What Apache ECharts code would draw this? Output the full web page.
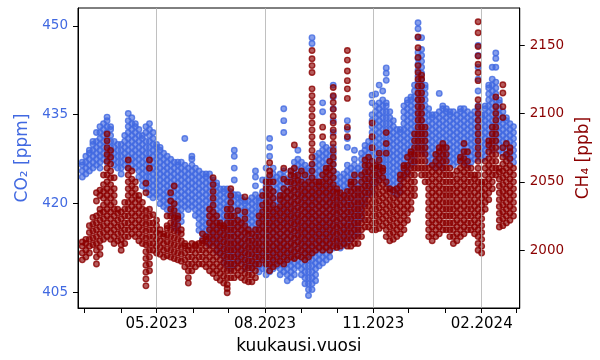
<!DOCTYPE html>
<html><head><meta charset="utf-8">
<script src="https://cdn.jsdelivr.net/npm/echarts@6/dist/echarts.min.js"></script>
<style>html,body{margin:0;padding:0;background:#fff}#c{width:600px;height:360px}</style>
</head><body><div id="c"></div>
<script>
// sampling grid: one column of readings every 3 days, starting 27.02.2023
const startDate = '2023-02-27';
const stepDays = 3;

// CO2 [ppm] readings per time column
const co2Steps = [
[424.5,425.5,426.5,427],
[425,426,427,428],
[425.5,426.5,427.5,428.5,429],
[426,427,428,429,430,430.5],
[426.5,427.5,428.5,429.5,430.5,432],
[426,427,428,429,430,431,432,433],
[427.5,428.5,429.5,430.5,431.5,432.5,433.5],
[427,428,429,430,431,432,433,434,434.6],
[427.5,428.5,429.5,430.5,431.5,432.5,433],
[426.5,427.5,428.5,429.5,430.5],
[426,427,428,429,430],
[425,426,427,428,429,430],
[426.5,427.5,428.5,429.5,430.5,431.5],
[426,427,428,429,430,431,432,433,434,435.2],
[426.5,427.5,428.5,429.5,430.5,431.5,432.5,433.5,434.5],
[426,427,428,429,430,431,432,433,433.5],
[424.5,425.5,426.5,427.5,428.5,429.5,430.5,431.5,432.5],
[423,424,425,426,427,428,429,430,431,431.5],
[422.5,423.5,424.5,425.5,426.5,427.5,428.5,429.5,430.5,432,433],
[421.5,422.5,423.5,424.5,425.5,426.5,427.5,428.5,429.5,430.5,431.5,432.5,433.5],
[421,422,423,424,425,426,427,428,429,430,431,432],
[421.5,422.5,423.5,424.5,425.5,426.5,427.5,428.5,429.5,430],
[420,421,422,423,424,425,426,427,428,429,429.5],
[419.5,420.5,421.5,422.5,423.5,424.5,425.5,426.5,427.5,428.5],
[419,420,421,422,423,424,425,426,427,428],
[418.5,419.5,420.5,421.5,422.5,423.5,424.5,425.5,426.5,427.5],
[416,417,418,419,420,421,422,423,424,425,426,427],
[415.5,416.5,417.5,418.5,419.5,420.5,421.5,422.5,423.5,424.5,425.5,426.5,427],
[417,418,419,420,421,422,423,424,425,426,427],
[419.5,420.5,421.5,422.5,423.5,424.5,425.5,426.5,431],
[419,420,421,422,423,424,425,426],
[419.5,420.5,421.5,422.5,423.5,424.5,425.5,426.5,427.5,428],
[418,419,420,421,422,423,424,425,426],
[415.5,416.5,417.5,418.5,419.5,420.5,421.5,422.5,423.5,424.5,425.5],
[414,415,416,417,418,419,420,421,422,423,424,425],
[413.5,414.5,415.5,416.5,417.5,418.5,419.5,420.5,421.5,422.5,423.5,424.5,425],
[413,414,415,416,417,418,419,420,421,422,423,424,425],
[413.5,414.5,415.5,416.5,417.5,418.5,419.5,420.5,421.5,422.5,423.5,424],
[412,413,414,415,416,417,418,419,420,421,422,423,423.5],
[411.5,412.5,413.5,414.5,415.5,416.5,417.5,418.5,419.5,420.5,421.5,422.5],
[410,411,412,413,414,415,416,417,418,419,420,421,422,422.5],
[409.5,410.5,411.5,412.5,413.5,414.5,415.5,416.5,417.5,418.5,419.5,420.5,421.5,422.5],
[409,410,411,412,413,414,415,416,417,418,419,420,421,422],
[409.5,410.5,411.5,412.5,413.5,414.5,415.5,416.5,417.5,418.5,419.5,420.5,421.5,424,426,428,429],
[410,411,412,413,414,415,416,417,418,419,420,421,421.5],
[410.5,411.5,412.5,413.5,414.5,415.5,416.5,417.5,418.5,419.5,420.5,421],
[409,410,411,412,413,414,415,416,417,418,419,420,420.5],
[409.5,410.5,411.5,412.5,413.5,414.5,415.5,416.5,417.5,418.5,419.5,420.5],
[409,410,411,412,413,414,415,416,417,418,419,420,421],
[409.5,410.5,411.5,412.5,413.5,414.5,415.5,416.5,417.5,418.5,419.5,420.5,421.5,423,424.5,425.5],
[408.5,409.5,410.5,411.5,412.5,413.5,414.5,415.5,416.5,417.5,418.5,419.5,420.5,421],
[409,410,411,412,413,414,415,416,417,418,419,420,421,422,424],
[408,409,410,411,412,413,414,415,416,417,418,419,420,421,422,423,424,426],
[408.5,409.5,410.5,411.5,412.5,413.5,414.5,415.5,416.5,417.5,418.5,419.5,420.5,421.5,422.5,423.5,424.5,428,429.5,431],
[409,410,411,412,413,414,415,416,417,418,419,420,421,422,423,424,425,426],
[409.5,410.5,411.5,412.5,413.5,414.5,415.5,416.5,417.5,418.5,419.5,420.5,421.5,422.5,423.5,424.5],
[408,409,410,411,412,413,414,415,416,417,418,419,420,421,422,423,424,425],
[408.5,409.5,410.5,411.5,412.5,413.5,414.5,415.5,416.5,417.5,418.5,419.5,420.5,421.5,422.5,423.5,424.5,425.5,432,434,436],
[407,408,409,410,411,412,413,414,415,416,417,418,419,420,421,422,423,424],
[407.5,408.5,409.5,410.5,411.5,412.5,413.5,414.5,415.5,416.5,417.5,418.5,419.5,420.5,421.5,422.5,423.5,424.5,425.5],
[408,409,410,411,412,413,414,415,416,417,418,419,420,421,422,423,424,425,426,427],
[409.5,410.5,411.5,412.5,413.5,414.5,415.5,416.5,417.5,418.5,419.5,420.5,421.5,422.5,423.5,424.5,425.5,426.5,427.5,429],
[408,409,410,411,412,413,414,415,416,417,418,419,420,421,422,423,424,425,426,427],
[406.5,407.5,408.5,409.5,410.5,411.5,412.5,413.5,414.5,415.5,416.5,417.5,418.5,419.5,420.5,421.5,422.5,423.5,424.5,425.5,426.5],
[404.5,405.5,406.5,407.5,408.5,409.5,410.5,411.5,412.5,413.5,414.5,415.5,416.5,417.5,418.5,419.5,420.5,421.5,422.5,423.5,424.5,425.5,426],
[405.5,406.5,407.5,408.5,409.5,410.5,411.5,412.5,413.5,414.5,415.5,416.5,417.5,418.5,419.5,420.5,421.5,422.5,423.5,424.5,425.5,426.5,447,448],
[407,408,409,410,411,412,413,414,415,416,417,418,419,420,421,422,423,424,425,426,427,428],
[409.5,410.5,411.5,412.5,413.5,414.5,415.5,416.5,417.5,418.5,419.5,420.5,421.5,422.5,423.5,424.5,425.5,426.5,427.5,428.5],
[410,411,412,413,414,415,416,417,418,419,420,421,422,423,424,425,426,427,428,429,430,435.5,437],
[410.5,411.5,412.5,413.5,414.5,415.5,416.5,417.5,418.5,419.5,420.5,421.5,422.5,423.5,424.5,425.5,426.5,427.5,428.5,429.5],
[411,412,413,414,415,416,417,418,419,420,421,422,423,424,425,426,427,428,429],
[412.5,413.5,414.5,415.5,416.5,417.5,418.5,419.5,420.5,421.5,422.5,423.5,424.5,425.5,426.5,427.5,428.5,429.5,432,434,436,438,440],
[413,414,415,416,417,418,419,420,421,422,423,424,425],
[412.5,413.5,414.5,415.5,416.5,417.5,418.5,419.5,420.5,421.5,422.5,423.5,424.5],
[413,414,415,416,417,418,419,420,421,422,423,424,425],
[413.5,414.5,415.5,416.5,417.5,418.5,419.5,420.5,421.5,422.5,423.5,424.5,425.5,426.5,429.5,431,432.5,434],
[414,415,416,417,418,419,420,421,422,423,424,425,426],
[414.5,415.5,416.5,417.5,418.5,419.5,420.5,421.5,422.5,423.5,424.5,425.5,426.5,427.5,429],
[415,416,417,418,419,420,421,422,423,424,425,426],
[417.5,418.5,419.5,420.5,421.5,422.5,423.5,424.5,425.5,426.5,427.5,428.5],
[420,421,422,423,424,425,426,427,428,429,429.8],
[421.5,422.5,423.5,424.5,425.5,426.5,427.5,428.5,429.5,430.5],
[422,423,424,425,426,427,428,429,430,431,432,433,434,435,437,438.3],
[423.5,424.5,425.5,426.5,427.5,428.5,429.5,430.5,431.5,432.5,433.5,434.5,435.5,436.5,438.5],
[424,425,426,427,428,429,430,431,432,433,434,435,436,437,440],
[424.5,425.5,426.5,427.5,428.5,429.5,430.5,431.5,432.5,433.5,434.5,435.5,436.5,437.5,439],
[423.5,424.5,425.5,426.5,427.5,428.5,429.5,430.5,431.5,432.5,433.5,434.5,435.5,436.5,437,440.8,442,442.9],
[422.5,423.5,424.5,425.5,426.5,427.5,428.5,429.5,430.5,431.5,432.5,433.5,434.5,435.5],
[422,423,424,425,426,427,428,429,430,431,432,433,434],
[421.5,422.5,423.5,424.5,425.5,426.5,427.5,428.5,429.5,430.5,431.5,432.5],
[422,423,424,425,426,427,428,429,430,431,432,432.5],
[424.5,425.5,426.5,427.5,428.5,429.5,430.5,431.5,432.5,433.5,434.5,435.5,436.5],
[425,426,427,428,429,430,431,432,433,434,435,436,437,437.5],
[426.5,427.5,428.5,429.5,430.5,431.5,432.5,433.5,434.5,435.5,436.5,437.5,438],
[427,428,429,430,431,432,433,434,435,436,437,438,439,440],
[429.5,430.5,431.5,432.5,433.5,434.5,435.5,436.5,437.5,438.5,439.5,440.5,441.5,442.5,443.5,444.5,445.5,448,449.5,450.5],
[429,430,431,432,433,434,435,436,437,438,439,440,441,442,443,444,445,446,448],
[428.5,429.5,430.5,431.5,432.5,433.5,434.5,435.5,436.5,437.5,438.5,439.5,440],
[427,428,429,430,431,432,433,434,435,436],
[426.5,427.5,428.5,429.5,430.5,431.5,432.5,433.5,434.5,435],
[426,427,428,429,430,431,432,433,434,435],
[426.5,427.5,428.5,429.5,430.5,431.5,432.5,433.5,434.5,435.5,438.6],
[426,427,428,429,430,431,432,433,434,435,436,436.5],
[427.5,428.5,429.5,430.5,431.5,432.5,433.5,434.5,435.5,436],
[427,428,429,430,431,432,433,434,435,435.5],
[426.5,427.5,428.5,429.5,430.5,431.5,432.5,433.5,434.5,435.5],
[427,428,429,430,431,432,433,434,435],
[427.5,428.5,429.5,430.5,431.5,432.5,433.5,434.5,435.5,436],
[427,428,429,430,431,432,433,434,435,436],
[426.5,427.5,428.5,429.5,430.5,431.5,432.5,433.5,434.5,435.5],
[427,428,429,430,431,432,433,434,435],
[427.5,428.5,429.5,430.5,431.5,432.5,433.5,434.5,435.5],
[428,429,430,431,432,433,434,435,436,436.5,439,441,443,445,446.7],
[427.5,428.5,429.5,430.5,431.5,432.5,433.5,434.5,435],
[428,429,430,431,432,433,434,435,436,436.5],
[429.5,430.5,431.5,432.5,433.5,434.5,435.5,436.5,437.5,438.5,439.5,440],
[429,430,431,432,433,434,435,436,437,438,439,440,441,443],
[430.5,431.5,432.5,433.5,434.5,435.5,436.5,437.5,438.5,439.5,440.5,443,444.5,445.4],
[429,430,431,432,433,434,435,436,437,437.5],
[428.5,429.5,430.5,431.5,432.5,433.5,434.5,435.5],
[428,429,430,431,432,433,434,434.5],
[427.5,428.5,429.5,430.5,431.5,432.5,433.5],
[427,428,429,430,431,432,433]
];

// CH4 [ppb] readings per time column
const ch4Steps = [
[1993,1998,2003,2006],
[1995,2000,2005,2008],
[1998,2003,2008,2013,2018],
[2004,2009,2014,2019,2024],
[1990,1995,2000,2005,2010,2015,2020,2025,2036,2042],
[1997,2002,2007,2012,2017,2022,2027,2030,2040,2044],
[2008,2013,2018,2023,2028,2033,2038,2043,2048,2055],
[2010,2015,2020,2025,2030,2035,2040,2045,2050,2055,2060,2065,2070,2075,2080,2085],
[2008,2013,2018,2023,2028,2033,2038,2043,2048,2053,2058,2063,2068,2073],
[2005,2010,2015,2020,2025,2030,2035,2040,2045,2053],
[2007,2012,2017,2022,2027,2030],
[2000,2004,2008,2013,2018,2023,2028],
[2005,2010,2015,2020,2025,2030,2035],
[2010,2015,2020,2025,2030,2035,2040,2045,2050,2055,2060,2066],
[2012,2017,2022,2027,2032,2037,2042,2047,2052,2058],
[2010,2015,2020,2025,2030,2035,2040,2045,2050],
[2007,2012,2017,2022,2027,2032,2037,2040],
[2005,2010,2015,2020,2025,2030,2035],
[1974,1979,1984,1989,1994,1999,2004,2009,2014,2019,2024,2029,2042,2049],
[1985,1990,1995,2000,2005,2010,2015,2020,2025,2030,2060,2066],
[2000,2005,2010,2015,2020,2026],
[1998,2003,2008,2013,2018,2022],
[1997,2002,2007,2012,2015],
[1995,2000,2005,2010,2012],
[1996,2001,2006,2011,2016,2018,2025],
[1995,2000,2005,2010,2015,2020,2025,2030,2036,2042],
[1994,1999,2004,2009,2014,2019,2024,2029,2034,2047],
[1993,1998,2003,2008,2013,2018,2023,2025],
[1992,1997,2002,2007,2012,2015],
[1988,1993,1998,2003,2005],
[1976,1980,1985,1990,1995,2000,2003],
[1985,1990,1995,2000,2005],
[1988,1993,1998,2003,2004],
[1990,1995,2000,2005],
[1990,1995,2000,2005,2007,2012],
[1988,1993,1998,2003,2008,2010],
[1985,1990,1995,2000,2005,2010,2015,2020,2025,2030],
[1983,1988,1993,1998,2003,2008,2013,2018,2023,2028,2033,2038,2043,2048,2053],
[1980,1985,1990,1995,2000,2005,2010,2015,2020,2025],
[1978,1983,1988,1993,1998,2003,2008,2013,2018,2020],
[1976,1981,1986,1991,1996,2001,2006,2011,2016,2018],
[1969,1972,1975,1980,1985,1990,1995,2000,2005,2010,2015,2020,2025,2030],
[1980,1985,1990,1995,2000,2005,2010,2015,2020,2025,2030,2035,2040,2045],
[1980,1985,1990,1995,2000,2005,2010,2015,2020,2025],
[1982,1987,1992,1997,2002,2007,2012,2017,2022,2029],
[1980,1985,1990,1995,2000,2005,2010,2015,2020],
[1978,1983,1988,1993,1998,2003,2008,2013,2018,2023,2028,2039],
[1977,1982,1987,1992,1997,2002,2007,2012,2015],
[1977,1982,1987,1992,1997,2002,2007,2012],
[1980,1985,1990,1995,2000,2005,2010,2015],
[1990,1995,2000,2005,2010,2015,2020,2025],
[1993,1998,2003,2008,2013,2018,2023,2028,2033,2040],
[1990,1995,2000,2005,2010,2015,2020,2025,2030,2035,2040,2045,2050],
[1985,1990,1995,2000,2005,2010,2015,2020,2025,2030,2035,2040,2045,2050,2055,2058,2064],
[1988,1993,1998,2003,2008,2013,2018,2023,2028,2033,2038,2043,2050],
[1990,1995,2000,2005,2010,2015,2020,2025,2030],
[1992,1997,2002,2007,2012,2017,2022,2027,2032,2037,2040],
[1990,1995,2000,2005,2010,2015,2020,2025,2030,2035,2040,2045,2052,2060],
[1993,1998,2003,2008,2013,2018,2023,2028,2033,2038,2043,2050],
[1995,2000,2005,2010,2015,2020,2025,2030,2035,2040,2045,2050,2055,2058],
[1994,1999,2004,2009,2014,2019,2024,2029,2034,2039,2044,2049,2054,2060,2077],
[1996,2001,2006,2011,2016,2021,2026,2031,2036,2041,2046,2051,2055],
[1995,2000,2005,2010,2015,2020,2025,2030,2035,2040,2045,2050,2058],
[1993,1998,2003,2008,2013,2018,2023,2028,2033,2038,2043,2048,2055],
[1995,2000,2005,2010,2015,2020,2025,2030,2035,2040,2045,2050],
[1998,2003,2008,2013,2018,2023,2028,2033,2038,2043,2048,2053,2058,2063,2068,2073,2078,2083,2088,2093,2098,2103,2108,2113,2118,2130,2135,2140,2146],
[2000,2005,2010,2015,2020,2025,2030,2035,2040,2045,2050],
[2002,2007,2012,2017,2022,2027,2032,2037,2042,2047,2050],
[2000,2005,2010,2015,2020,2025,2030,2035,2040,2045,2050,2055,2083,2090],
[2002,2007,2012,2017,2022,2027,2032,2037,2042,2047,2052,2057,2060],
[2000,2005,2010,2015,2020,2025,2030,2035,2040,2045,2050,2055,2060,2065],
[2003,2008,2013,2018,2023,2028,2033,2038,2043,2048,2053,2058,2063,2068,2073,2078,2083,2088,2093,2098,2103,2108,2113,2119],
[2002,2007,2012,2017,2022,2027,2032,2037,2042,2045],
[2003,2008,2013,2018,2023,2028,2033,2038,2042],
[2005,2010,2015,2020,2025,2030,2035,2040],
[2003,2008,2013,2018,2023,2028,2033,2038,2043,2083,2090,2111,2118,2124,2131,2139,2146],
[2003,2008,2013,2018,2023,2028,2033,2038,2043,2048,2050],
[2005,2010,2015,2020,2025,2030,2035,2040,2045,2050,2055],
[2005,2010,2015,2020,2025,2030,2035,2040,2045],
[2010,2015,2020,2025,2030,2035,2040,2045,2050,2055],
[2017,2022,2027,2032,2037,2042,2047,2052,2057,2062,2066],
[2017,2022,2027,2032,2037,2042,2047,2052,2057,2062,2068],
[2015,2020,2025,2030,2035,2040,2045,2050,2055,2060,2065,2075,2083,2093],
[2015,2020,2025,2030,2035,2040,2045,2050,2055,2060,2062],
[2016,2021,2026,2031,2036,2041,2046,2051,2056,2061,2066,2071],
[2018,2023,2028,2033,2038,2043,2048,2053,2058,2060],
[2010,2015,2020,2025,2030,2035,2040,2045,2050,2071,2078,2086],
[2007,2012,2017,2022,2027,2032,2037,2042,2045],
[2008,2013,2018,2023,2028,2033,2038,2044],
[2010,2015,2020,2025,2030,2035,2040,2045],
[2012,2017,2022,2027,2032,2037,2042,2047,2052,2055],
[2015,2020,2025,2030,2035,2040,2045,2050,2055,2060,2062],
[2022,2027,2032,2037,2042,2047,2052,2057,2062,2068],
[2030,2035,2040,2045,2050,2055,2060,2065,2070,2072],
[2040,2045,2050,2055,2060,2065,2070,2075,2080,2085],
[2060,2065,2070,2075,2080,2085,2090,2095,2100,2105,2110,2115,2120,2125,2130,2135,2141,2148,2156],
[2055,2060,2065,2070,2075,2080,2085,2090,2095,2100,2105,2110,2115,2120,2125,2128],
[2050,2055,2060,2065,2070,2075,2080,2085,2090],
[2010,2015,2020,2025,2030,2035,2040,2045,2050,2055,2060],
[2007,2012,2017,2022,2027,2032,2037,2042,2047,2052,2057,2062],
[2010,2015,2020,2025,2030,2035,2040,2045,2050,2055,2060,2065,2070],
[2012,2017,2022,2027,2032,2037,2042,2047,2052,2057,2062,2067,2072,2075],
[2015,2020,2025,2030,2035,2040,2045,2050,2055,2060,2065,2070,2075,2078],
[2015,2020,2025,2030,2035,2040,2045,2050,2055,2060,2065,2070,2075],
[2010,2015,2020,2025,2030,2035,2040,2045,2050,2055,2060],
[2005,2010,2015,2020,2025,2030,2035,2040,2045,2050,2055],
[2007,2012,2017,2022,2027,2032,2037,2042,2047,2052,2058],
[2010,2015,2020,2025,2030,2035,2040,2045,2050,2055,2060,2065,2068],
[2012,2017,2022,2027,2032,2037,2042,2047,2052,2057,2062,2067,2072,2078],
[2015,2020,2025,2030,2035,2040,2045,2050,2055,2060,2065,2072],
[2015,2020,2025,2030,2035,2040,2045,2050,2055,2060],
[2012,2017,2022,2027,2032,2037,2042,2047,2052,2055],
[2000,2005,2010,2015,2020,2025,2030,2035,2040,2045,2050,2055,2060,2065,2070,2075,2080,2085,2090,2095,2100,2105,2110,2124,2130,2136,2142,2149,2159,2167],
[1998,2003,2008,2013,2018,2023,2028,2033,2038,2043,2048,2050],
[2030,2035,2040,2045,2050,2055,2060,2065],
[2037,2042,2047,2052,2057,2062,2067,2072,2077,2080],
[2045,2050,2055,2060,2065,2070,2075,2080,2085,2090],
[2055,2060,2065,2070,2075,2080,2085,2090,2095,2100,2105,2112],
[2017,2022,2027,2032,2037,2042,2047,2052,2057,2060],
[2018,2023,2028,2033,2038,2043,2048,2053,2058,2063,2068,2075,2097,2105,2115,2121],
[2020,2025,2030,2035,2040,2045,2050,2055,2060,2065,2070,2078],
[2022,2027,2032,2037,2042,2047,2052,2057,2062,2067,2072,2075],
[2025,2030,2035,2040,2045,2050,2055,2060]
];

// axis ticks
const monthTicks = ['2023-03-01','2023-04-01','2023-05-01','2023-06-01','2023-07-01','2023-08-01','2023-09-01','2023-10-01','2023-11-01','2023-12-01','2024-01-01','2024-02-01','2024-03-01'];
const labelMonths = ['2023-05-01','2023-08-01','2023-11-01','2024-02-01'];
const co2Ticks = [405,420,435,450];
const ch4Ticks = [2000,2050,2100,2150];

const DAY = 86400000;
const t0 = Date.parse(startDate);
function toPoints(steps){
  const out = [];
  steps.forEach((vals, i) => {
    const t = t0 + i * stepDays * DAY;
    vals.forEach(v => out.push([t, v]));
  });
  return out;
}
const co2Data = toPoints(co2Steps);
const ch4Data = toPoints(ch4Steps);

const BLUE = '#4169E1', RED = '#8B0000';
const FONT = 'DejaVu Sans';

const chart = echarts.init(document.getElementById('c'), null, {renderer:'canvas'});
chart.setOption({
  animation: false,
  backgroundColor: '#fff',
  grid: {left:78, right:78, top:8, bottom:52, show:true, borderColor:'#000', borderWidth:1, backgroundColor:'rgba(0,0,0,0)'},
  xAxis: {
    type: 'value',
    min: Date.parse('2023-02-23T08:00:00Z'),
    max: Date.parse('2024-03-04T08:00:00Z'),
    name: 'kuukausi.vuosi', nameLocation: 'middle', nameGap: 30,
    nameTextStyle: {fontSize: 17, color: '#000', fontFamily: FONT},
    axisLine: {show: true, onZero: false, lineStyle: {color: '#000', width: 1}},
    axisTick: {show: true, customValues: monthTicks.map(Date.parse), length: 5, lineStyle: {color: '#000', width: 1}},
    axisLabel: {
      customValues: labelMonths.map(Date.parse), fontSize: 15, color: '#000', margin: 9, fontFamily: FONT,
      formatter: v => { const d = new Date(v); return String(d.getUTCMonth()+1).padStart(2,'0') + '.' + d.getUTCFullYear(); }
    },
    splitLine: {show: false}
  },
  yAxis: [
    {
      type: 'value', position: 'left', min: 402.4, max: 453.0,
      name: 'CO₂ [ppm]', nameLocation: 'middle', nameGap: 45, nameRotate: 90,
      nameTextStyle: {fontSize: 17, color: BLUE, fontFamily: FONT},
      axisLine: {show: true, lineStyle: {color: '#000', width: 1}},
      axisTick: {show: true, customValues: co2Ticks, length: 5, lineStyle: {color: '#000'}},
      axisLabel: {customValues: co2Ticks, fontSize: 13.5, color: BLUE, margin: 10, fontFamily: FONT, formatter: v => String(v)},
      splitLine: {show: false}
    },
    {
      type: 'value', position: 'right', min: 1957.8, max: 2177.1,
      name: 'CH₄ [ppb]', nameLocation: 'middle', nameGap: 55, nameRotate: 90,
      nameTextStyle: {fontSize: 17, color: RED, fontFamily: FONT},
      axisLine: {show: true, lineStyle: {color: '#000', width: 1}},
      axisTick: {show: true, customValues: ch4Ticks, length: 5, lineStyle: {color: '#000'}},
      axisLabel: {customValues: ch4Ticks, fontSize: 13.5, color: RED, margin: 10, fontFamily: FONT, formatter: v => String(v)},
      splitLine: {show: false}
    }
  ],
  series: [
    {
      type: 'scatter', data: [], z: 1, silent: true,
      markLine: {
        silent: true, symbol: ['none','none'], label: {show: false}, animation: false,
        lineStyle: {color: '#b0b0b0', width: 0.8, type: 'solid'},
        data: labelMonths.map(m => ({xAxis: Date.parse(m)}))
      }
    },
    {
      type: 'scatter', xAxisIndex: 0, yAxisIndex: 0, data: co2Data, z: 3,
      symbol: 'circle', symbolSize: 5.5, silent: true, progressive: 0, large: false,
      itemStyle: {color: 'rgba(65,105,225,0.8)', borderColor: BLUE, borderWidth: 1.4},
      emphasis: {disabled: true}
    },
    {
      type: 'scatter', xAxisIndex: 0, yAxisIndex: 1, data: ch4Data, z: 4,
      symbol: 'circle', symbolSize: 5.5, silent: true, progressive: 0, large: false,
      itemStyle: {color: 'rgba(139,0,0,0.8)', borderColor: RED, borderWidth: 1.4},
      emphasis: {disabled: true}
    }
  ]
});
</script>
</body></html>
